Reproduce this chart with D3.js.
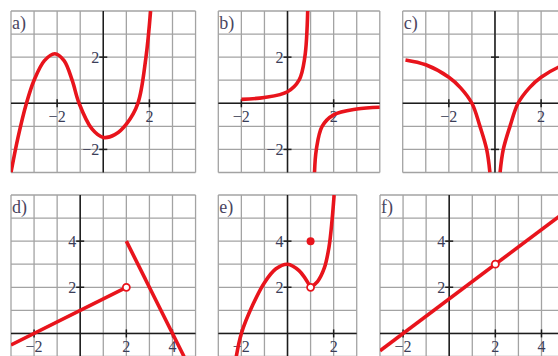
<!DOCTYPE html>
<html>
<head>
<meta charset="utf-8">
<style>
body { margin: 0; background: white; }
.tick-label { font-family: "Liberation Serif", "DejaVu Serif", serif; font-size: 16px; fill: #3a3d58; }
.panel-label { font-family: "Liberation Serif", "DejaVu Serif", serif; font-size: 18px; fill: #4a4560; }
</style>
<script src="https://cdnjs.cloudflare.com/ajax/libs/d3/7.8.5/d3.min.js"></script>
</head>
<body>
<script>
// panel data
var panelLabels = ["a)", "b)", "c)", "d)", "e)", "f)"];
var xRanges = [[-4, 4], [-3, 4], [-4, 4], [-3, 5], [-3, 3], [-3, 5]];
var yRanges = [[-3, 4], [-3, 4], [-3, 4], [-1, 6], [-1, 6], [-1, 6]];
var xTicks = [[-2, 2], [-2, 2], [-2, 2], [-2, 2, 4], [-2, 2], [-2, 2, 4]];
var yTicks = [[-2, 2], [-2, 2], [-2, 2], [2, 4], [2, 4], [2, 4]];
var yTickLabelsShown = [true, true, false, true, true, true];

var curveA = [[-4, -3], [-3.7, -1.5], [-3.33, 0], [-3, 1], [-2.55, 1.85], [-2.1, 2.15], [-1.7, 1.85],
              [-1.35, 1], [-1.05, 0], [-0.5, -1.1], [0, -1.48], [0.5, -1.36], [1, -0.9], [1.5, 0],
              [1.85, 2], [2.05, 4]];
var curveBLeft = [[-2, 0.17], [-1, 0.25], [0, 0.5], [0.5, 1], [0.75, 2], [0.875, 4]];
var curveBRight = [[1.17, -3], [1.25, -2], [1.5, -1], [2, -0.5], [3, -0.25], [4, -0.17]];
var curveCLeft = [[-3.88, 1.88], [-3, 1.67], [-2, 1.13], [-1.5, 0.68], [-1, 0], [-0.65, -1], [-0.36, -2], [-0.22, -3]];
var curveCRight = [[0.22, -3], [0.36, -2], [0.65, -1], [1, 0], [1.5, 0.68], [2, 1.13], [3, 1.67], [3.88, 1.88]];
var lineDLeft = [[-3, -0.5], [2, 2]];
var lineDRight = [[2, 4], [4.5, -1]];
var curveELeft = [[-2.22, -1], [-2, 0], [-1.5, 1.25], [-1, 2.2], [-0.5, 2.8], [0, 3], [0.5, 2.72], [1, 2]];
var curveERight = [[1, 2], [1.3, 2.25], [1.6, 2.85], [1.8, 3.75], [1.93, 4.9], [2.02, 6]];
var lineF = [[-3, -0.75], [5, 5.25]];

var seriesByPanel = [[curveA], [curveBLeft, curveBRight], [curveCLeft, curveCRight],
                     [lineDLeft, lineDRight], [curveELeft, curveERight], [lineF]];
var openPoints = [[], [], [], [[2, 2]], [[1, 2]], [[2, 3]]];
var filledPoints = [[], [], [], [], [[1, 4]], []];

// layout
var W = 558, H = 356;
var CELL = 23.07;
var panelPos = [[11, 11], [218.3, 11], [402.7, 11], [11, 195], [218.3, 195], [380, 195]];
var RED = "#e8141c";

var svg = d3.select("body").append("svg")
    .attr("width", W)
    .attr("height", H);

var line = d3.line()
    .x(function(d) { return d[0]; })
    .y(function(d) { return d[1]; })
    .curve(d3.curveCatmullRom.alpha(0.5));

panelLabels.forEach(function(name, i) {
    var left = panelPos[i][0], top = panelPos[i][1];
    var xr = xRanges[i], yr = yRanges[i];
    var x = d3.scaleLinear().domain(xr).range([left, left + (xr[1] - xr[0]) * CELL]);
    var y = d3.scaleLinear().domain(yr).range([top + (yr[1] - yr[0]) * CELL, top]);
    var g = svg.append("g");

    g.append("clipPath").attr("id", "clip" + i)
      .append("rect")
        .attr("x", x(xr[0])).attr("y", y(yr[1]))
        .attr("width", x(xr[1]) - x(xr[0]))
        .attr("height", y(yr[0]) - y(yr[1]));

    // grid
    g.selectAll("line.gx").data(d3.range(xr[0], xr[1] + 1)).enter()
      .append("line")
        .attr("x1", function(d) { return x(d); }).attr("x2", function(d) { return x(d); })
        .attr("y1", y(yr[0])).attr("y2", y(yr[1]))
        .attr("stroke", "#a3a3a3").attr("stroke-width", 1.3);
    g.selectAll("line.gy").data(d3.range(yr[0], yr[1] + 1)).enter()
      .append("line")
        .attr("y1", function(d) { return y(d); }).attr("y2", function(d) { return y(d); })
        .attr("x1", x(xr[0])).attr("x2", x(xr[1]))
        .attr("stroke", "#a3a3a3").attr("stroke-width", 1.3);

    // axes
    g.append("line")
        .attr("x1", x(xr[0])).attr("x2", x(xr[1]))
        .attr("y1", y(0)).attr("y2", y(0))
        .attr("stroke", "#1c1c1c").attr("stroke-width", 1.5);
    g.append("line")
        .attr("x1", x(0)).attr("x2", x(0))
        .attr("y1", y(yr[0])).attr("y2", y(yr[1]))
        .attr("stroke", "#1c1c1c").attr("stroke-width", 1.5);

    // ticks
    g.selectAll("line.tx").data(xTicks[i]).enter()
      .append("line")
        .attr("x1", function(d) { return x(d); }).attr("x2", function(d) { return x(d); })
        .attr("y1", y(0) - 4).attr("y2", y(0) + 4)
        .attr("stroke", "#1c1c1c").attr("stroke-width", 1.5);
    g.selectAll("line.ty").data(yTicks[i]).enter()
      .append("line")
        .attr("y1", function(d) { return y(d); }).attr("y2", function(d) { return y(d); })
        .attr("x1", x(0) - 4).attr("x2", x(0) + 4)
        .attr("stroke", "#1c1c1c").attr("stroke-width", 1.5);

    var fmt = function(d) { return d < 0 ? "\u2212" + (-d) : "" + d; };
    g.selectAll("text.tx").data(xTicks[i]).enter()
      .append("text")
        .attr("class", "tick-label")
        .attr("x", function(d) { return x(d); })
        .attr("y", y(0) + 19)
        .attr("text-anchor", "middle")
        .text(fmt);
    if (yTickLabelsShown[i]) {
        g.selectAll("text.ty").data(yTicks[i]).enter()
          .append("text")
            .attr("class", "tick-label")
            .attr("x", x(0) - 4)
            .attr("y", function(d) { return y(d) + 6; })
            .attr("text-anchor", "end")
            .text(fmt);
    }

    // curves
    var cg = g.append("g").attr("clip-path", "url(#clip" + i + ")");
    seriesByPanel[i].forEach(function(s) {
        cg.append("path")
            .attr("d", line(s.map(function(p) { return [x(p[0]), y(p[1])]; })))
            .attr("fill", "none")
            .attr("stroke", RED)
            .attr("stroke-width", 3.6);
    });
    cg.selectAll("circle.open").data(openPoints[i]).enter()
      .append("circle")
        .attr("cx", function(d) { return x(d[0]); })
        .attr("cy", function(d) { return y(d[1]); })
        .attr("r", 3.5)
        .attr("fill", "white").attr("stroke", RED).attr("stroke-width", 1.8);
    cg.selectAll("circle.filled").data(filledPoints[i]).enter()
      .append("circle")
        .attr("cx", function(d) { return x(d[0]); })
        .attr("cy", function(d) { return y(d[1]); })
        .attr("r", 4)
        .attr("fill", RED);

    g.append("text")
        .attr("class", "panel-label")
        .attr("x", left + 1)
        .attr("y", top + 18)
        .text(name);
});
</script>
</body>
</html>
